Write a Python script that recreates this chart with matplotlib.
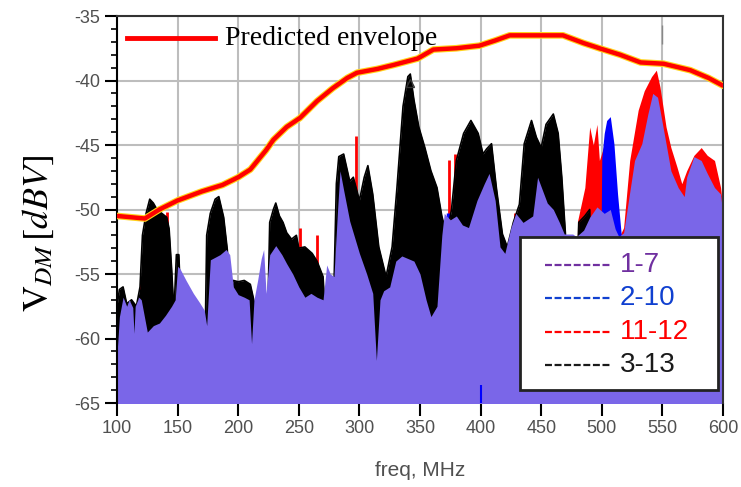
import numpy as np
import matplotlib
matplotlib.use("Agg")
import matplotlib.pyplot as plt
from matplotlib.patches import Rectangle

plt.rcParams['axes.unicode_minus'] = False
plt.rcParams['mathtext.fontset'] = 'stix'
plt.rcParams['lines.scale_dashes'] = False

# envelope prevista (MHz, dBV)
env_f = [100, 123, 135, 150, 170, 187, 200, 210, 223, 229, 240, 251, 265, 278, 290, 298,
         315, 328, 348, 361, 380, 399, 412, 424, 468, 485, 498, 515, 532, 551, 573, 588, 600]
env_v = [-50.5, -50.7, -50.0, -49.3, -48.6, -48.1, -47.5, -46.9, -45.4, -44.6, -43.6, -42.9,
         -41.6, -40.6, -39.8, -39.4, -39.1, -38.8, -38.3, -37.6, -37.5, -37.3, -36.9, -36.5,
         -36.5, -37.1, -37.5, -38.0, -38.6, -38.7, -39.2, -39.8, -40.4]

# 1-7 (roxo)
p_f = [100, 102, 105, 108, 110, 113, 114, 115, 118, 120, 123, 125, 130, 135, 140, 145, 148,
       150, 152, 157, 163, 168, 172, 174, 177, 185, 190, 193, 196, 200, 205, 209, 211, 213,
       216, 219, 221, 223, 226, 231, 236, 240, 245, 250, 255, 260, 265, 270, 273, 276, 279,
       282, 284, 287, 292, 300, 306, 311, 314, 317, 320, 325, 330, 335, 340, 345, 350, 355,
       359, 364, 368, 370, 375, 380, 385, 390, 397, 403, 407, 412, 416, 420, 425, 429, 435,
       443, 447, 455, 460, 465, 469, 476, 479, 485, 490, 496, 502, 507, 511, 514, 518, 522,
       527, 533, 538, 542, 546, 548, 553, 557, 563, 568, 570, 576, 582, 587, 593, 598, 600]
p_v = [-61.2, -58.3, -56.8, -57.5, -57.0, -57.6, -59.6, -57.5, -56.8, -57.0, -58.5, -59.5,
       -59.0, -58.8, -58.2, -57.5, -57.0, -54.4, -54.6, -55.5, -56.5, -57.2, -57.8, -59.0,
       -53.9, -53.5, -53.1, -53.5, -56.0, -56.6, -56.8, -57.0, -60.4, -57.0, -55.5, -53.8,
       -53.1, -56.5, -53.5, -52.8, -53.5, -54.2, -55.0, -56.0, -56.8, -56.5, -56.8, -57.0,
       -54.3, -55.0, -55.2, -50.0, -47.0, -48.5, -50.9, -53.4, -55.0, -56.5, -61.7, -57.0,
       -56.3, -56.0, -54.0, -53.6, -53.8, -54.0, -55.0, -57.0, -58.3, -57.5, -52.0, -50.3,
       -50.8, -50.5, -51.2, -51.4, -49.3, -48.0, -47.2, -49.3, -52.9, -53.4, -51.4, -50.3,
       -51.0, -50.5, -47.5, -49.5, -50.0, -51.0, -51.9, -51.9, -52.1, -51.6, -50.6, -49.8,
       -50.3, -50.0, -51.5, -52.1, -51.8, -49.3, -46.2, -44.9, -42.6, -41.0, -41.3, -42.3,
       -44.9, -47.0, -48.3, -49.0, -47.5, -45.9, -46.2, -47.2, -48.3, -48.8, -50.5]

# 3-13 (preto)
k_f = [100, 102, 105, 108, 112, 116, 119, 121, 124, 127, 130, 133, 137, 141, 143, 145, 147,
       149, 151, 153, 155, 172, 174, 177, 181, 184, 188, 191, 193, 196, 200, 205, 210, 214,
       216, 220, 224, 226, 229, 231, 234, 237, 240, 244, 248, 250, 255, 261, 265, 270, 273,
       278, 281, 283, 287, 292, 295, 300, 304, 307, 311, 316, 322, 327, 331, 336, 340, 342,
       345, 349, 354, 359, 364, 368, 372, 376, 380, 386, 392, 398, 402, 405, 409, 413, 418,
       422, 427, 432, 436, 442, 446, 450, 454, 460, 464, 467, 470, 473, 478, 481, 486, 490,
       492]
k_v = [-57.5, -56.2, -56.0, -57.3, -57.0, -57.5, -56.0, -52.0, -50.3, -49.2, -49.5, -50.0,
       -50.3, -50.6, -51.5, -54.5, -58.0, -53.5, -53.5, -58.0, -65.0, -65.0, -52.0, -50.3,
       -49.2, -49.0, -50.6, -53.1, -56.5, -55.5, -55.6, -55.5, -55.8, -57.5, -60.0, -65.0,
       -60.0, -51.0, -50.0, -49.5, -50.5, -51.0, -51.8, -52.3, -52.0, -53.0, -52.9, -53.4,
       -54.0, -55.2, -60.0, -60.0, -48.0, -45.9, -45.7, -47.8, -47.5, -49.3, -47.5, -46.6,
       -48.8, -52.9, -55.2, -52.9, -48.3, -42.0, -39.7, -39.5, -41.5, -43.6, -45.2, -47.0,
       -48.3, -50.5, -52.0, -50.0, -46.2, -44.1, -43.1, -44.1, -45.7, -45.3, -44.9, -48.3,
       -51.9, -52.9, -51.0, -49.6, -44.9, -43.1, -44.4, -45.2, -43.4, -42.6, -44.1, -47.5,
       -51.9, -60.0, -60.0, -51.0, -50.5, -50.0, -65.0]

# 11-12 (vermelho)
r_f = [478, 480, 486, 490, 493, 496, 498, 502, 505, 510, 515, 518, 523, 530, 535, 541, 545,
       548, 553, 557, 562, 566, 570, 576, 582, 587, 593, 598, 600]
r_v = [-65.0, -50.9, -48.3, -43.6, -45.0, -43.4, -46.2, -45.0, -48.0, -52.0, -52.0, -51.4,
       -46.2, -42.3, -40.8, -39.7, -39.2, -40.5, -43.6, -45.2, -46.7, -48.0, -47.0, -45.8,
       -45.2, -45.8, -46.2, -48.3, -50.0]
r_spk_f = [120, 141, 251, 265, 297, 374, 379, 420, 428]
r_spk_v = [-55.2, -50.2, -51.4, -52.0, -44.3, -46.2, -45.7, -53.2, -50.3]

# 2-10 (azul)
b_f = [498, 500, 502, 504, 507, 510, 513, 516, 518]
b_v = [-65.0, -46.0, -44.1, -43.1, -42.8, -44.9, -48.8, -51.9, -65.0]
b_spk_f = [257, 272, 373]
b_spk_v = [-53.9, -56.5, -50.3]

leg_labels = ['1-7', '2-10', '11-12', '3-13']
leg_colors = ['#7030a0', '#1040d0', '#ff0000', '#1a1a1a']

fig = plt.figure(figsize=(7.41, 4.87), dpi=100)
ax = fig.add_axes([117 / 741, 1 - 403 / 487, 606 / 741, 387 / 487])

base = -66
ax.fill_between(r_f, r_v, base, color='#ff0000', lw=0, zorder=1)
ax.vlines(r_spk_f, base, r_spk_v, color='#ff0000', lw=2, zorder=1)
ax.fill_between(b_f, b_v, base, color='#0000ff', lw=0, zorder=1.2)
ax.vlines(b_spk_f, base, b_spk_v, color='#0000ff', lw=2.5, zorder=1.2)
ax.fill_between(k_f, k_v, base, color='black', lw=0, zorder=1.5)
ax.plot(k_f, k_v, color='black', lw=1.2, zorder=1.5)
ax.fill_between(p_f, p_v, base, color='#7a66e8', lw=0, zorder=2)
ax.vlines([400], -65, -63.6, color='#0000ff', lw=1.5, zorder=2.5)

# marcadores
ax.plot(342, -40.2, marker='^', ms=6, mfc='none', mec='#333333', mew=1, zorder=2.6)
ax.vlines([550], -37.2, -35.7, color='#888888', lw=1, zorder=2.6)

ax.plot(env_f, env_v, color='#ffd21a', lw=4.8, solid_capstyle='round', zorder=3)
ax.plot(env_f, env_v, color='#ff0000', lw=3.2, solid_capstyle='round', zorder=3.1)

ax.set_xlim(100, 600)
ax.set_ylim(-65, -35)
ax.set_xticks(np.arange(100, 601, 50))
ax.set_yticks(np.arange(-65, -34, 5))
ax.set_yticks(np.arange(-65, -34, 1), minor=True)
ax.grid(True, which='major', color='#bdbdbd', lw=1.5, zorder=0)
ax.set_axisbelow(True)
ax.tick_params(axis='both', which='major', direction='out', length=9, width=1.5,
               color='black', labelsize=13, labelcolor='#505050', pad=3)
ax.tick_params(axis='y', which='minor', direction='out', length=4.5, width=1.2, color='black')
for lab in ax.get_xticklabels() + ax.get_yticklabels():
    lab.set_family('Liberation Sans')
for side in ['top', 'right']:
    ax.spines[side].set_color('#333333')
    ax.spines[side].set_linewidth(1.5)
ax.spines['left'].set_color('black')
ax.spines['left'].set_linewidth(1.5)
ax.spines['bottom'].set_visible(False)

# legenda da envoltória
ax.plot([0.0165, 0.162], [0.943, 0.943], transform=ax.transAxes, color='#ff0000', lw=3.5,
        zorder=4)
ax.text(0.178, 0.943, 'Predicted envelope', transform=ax.transAxes, va='center',
        ha='left', fontsize=20, family='Liberation Serif', zorder=4)

# caixa de legenda das curvas
ax.add_patch(Rectangle((0.665, 0.034), 0.327, 0.395, transform=ax.transAxes,
                       facecolor='white', edgecolor='#222222', lw=2, zorder=5))
rows = [0.357, 0.271, 0.183, 0.098]
for y, lab, c in zip(rows, leg_labels, leg_colors):
    ax.plot([0.706, 0.817], [y, y], transform=ax.transAxes, color=c, lw=1.6,
            dashes=(5, 1.9), zorder=6)
    ax.text(0.830, y, lab, transform=ax.transAxes, color=c, va='center', ha='left',
            fontsize=20, family='Liberation Sans', zorder=6)

fig.text(420 / 741, 1 - 470 / 487, 'freq, MHz', ha='center', va='center', fontsize=15,
         color='#505050', family='Liberation Sans')
fig.text(38 / 741, 1 - 233 / 487, r'$\mathrm{V}_{DM}\,[dBV]$', rotation=90,
         ha='center', va='center', fontsize=26)

fig.savefig('out.png', dpi=100)
